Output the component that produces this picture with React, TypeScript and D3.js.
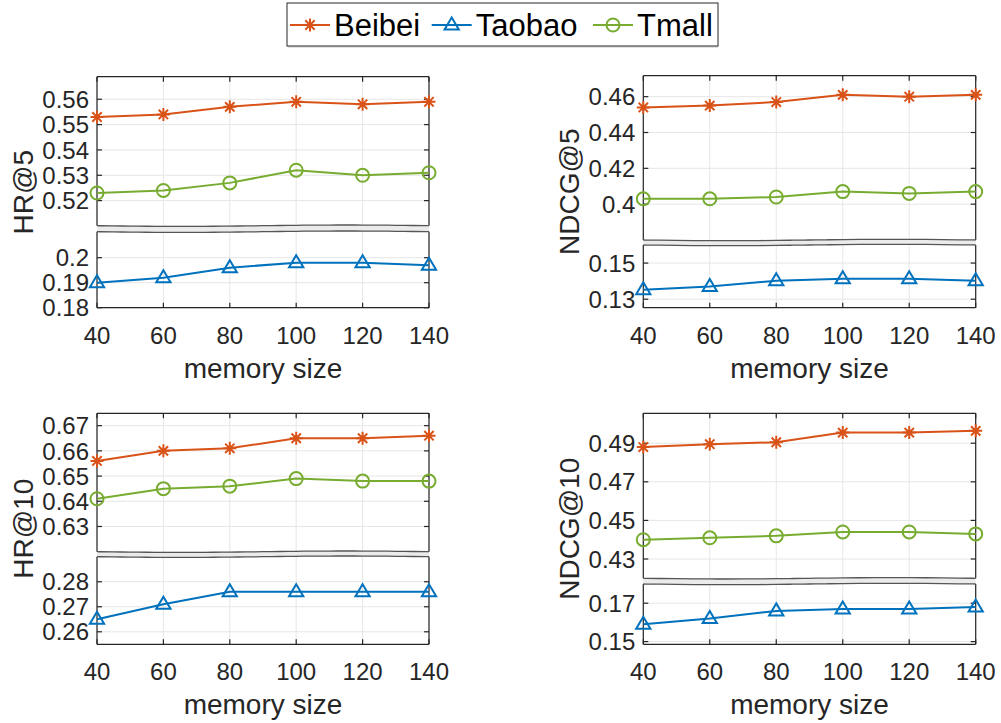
import React from "react";
import * as d3 from "d3";

const MEMORY_SIZES = [40, 60, 80, 100, 120, 140];
const SERIES_NAMES = ["Beibei", "Taobao", "Tmall"];
const SERIES_COLORS = ["#D95319", "#0072BD", "#77AC30"];

const HR5_BEIBEI = [0.553, 0.554, 0.557, 0.559, 0.558, 0.559];
const HR5_TAOBAO = [0.19, 0.192, 0.196, 0.198, 0.198, 0.197];
const HR5_TMALL = [0.523, 0.524, 0.527, 0.532, 0.53, 0.531];

const NDCG5_BEIBEI = [0.454, 0.455, 0.457, 0.461, 0.46, 0.461];
const NDCG5_TAOBAO = [0.1352, 0.137, 0.1402, 0.1413, 0.1413, 0.1402];
const NDCG5_TMALL = [0.403, 0.403, 0.404, 0.407, 0.406, 0.407];

const HR10_BEIBEI = [0.656, 0.66, 0.661, 0.665, 0.665, 0.666];
const HR10_TAOBAO = [0.265, 0.271, 0.276, 0.276, 0.276, 0.276];
const HR10_TMALL = [0.641, 0.645, 0.646, 0.649, 0.648, 0.648];

const NDCG10_BEIBEI = [0.488, 0.4895, 0.4905, 0.4955, 0.4955, 0.4964];
const NDCG10_TAOBAO = [0.159, 0.162, 0.166, 0.167, 0.167, 0.168];
const NDCG10_TMALL = [0.44, 0.441, 0.442, 0.444, 0.444, 0.443];

const HR5_UPPER_TICKS = [0.52, 0.53, 0.54, 0.55, 0.56];
const HR5_LOWER_TICKS = [0.18, 0.19, 0.2];
const NDCG5_UPPER_TICKS = [0.4, 0.42, 0.44, 0.46];
const NDCG5_LOWER_TICKS = [0.13, 0.15];
const HR10_UPPER_TICKS = [0.63, 0.64, 0.65, 0.66, 0.67];
const HR10_LOWER_TICKS = [0.26, 0.27, 0.28];
const NDCG10_UPPER_TICKS = [0.43, 0.45, 0.47, 0.49];
const NDCG10_LOWER_TICKS = [0.15, 0.17];

const FONT = "'Liberation Sans', Arial, Helvetica, sans-serif";
const AXIS = "#262626";
const GRID = "#e6e6e6";

type Panel = {
  label: string;
  x0: number;
  x1: number;
  upper: [number, number];
  upperDomain: [number, number];
  upperTicks: number[];
  lower: [number, number];
  lowerDomain: [number, number];
  lowerTicks: number[];
  beibei: number[];
  taobao: number[];
  tmall: number[];
};

const PANELS: Panel[] = [
  {
    label: "HR@5", x0: 97, x1: 429,
    upper: [76.7, 225.7], upperDomain: [0.5101, 0.5689], upperTicks: HR5_UPPER_TICKS,
    lower: [231.7, 307.7], lowerDomain: [0.18, 0.2104], lowerTicks: HR5_LOWER_TICKS,
    beibei: HR5_BEIBEI, taobao: HR5_TAOBAO, tmall: HR5_TMALL,
  },
  {
    label: "NDCG@5", x0: 643.3, x1: 975.7,
    upper: [75.7, 240], upperDomain: [0.38, 0.4717], upperTicks: NDCG5_UPPER_TICKS,
    lower: [245, 307.7], lowerDomain: [0.1253, 0.16], lowerTicks: NDCG5_LOWER_TICKS,
    beibei: NDCG5_BEIBEI, taobao: NDCG5_TAOBAO, tmall: NDCG5_TMALL,
  },
  {
    label: "HR@10", x0: 97, x1: 429,
    upper: [413.3, 551.7], upperDomain: [0.62, 0.6749], upperTicks: HR10_UPPER_TICKS,
    lower: [556.7, 644.3], lowerDomain: [0.255, 0.29], lowerTicks: HR10_LOWER_TICKS,
    beibei: HR10_BEIBEI, taobao: HR10_TAOBAO, tmall: HR10_TMALL,
  },
  {
    label: "NDCG@10", x0: 643.3, x1: 975.7,
    upper: [413.3, 578.3], upperDomain: [0.42, 0.5055], upperTicks: NDCG10_UPPER_TICKS,
    lower: [584, 644.3], lowerDomain: [0.1486, 0.18], lowerTicks: NDCG10_LOWER_TICKS,
    beibei: NDCG10_BEIBEI, taobao: NDCG10_TAOBAO, tmall: NDCG10_TMALL,
  },
];

const fmt = (v: number) => String(+v.toFixed(3));

function Marker({ kind, x, y, color }: { kind: number; x: number; y: number; color: string }) {
  if (kind === 0) {
    const r = 6.5;
    const d = r * 0.72;
    return (
      <path
        d={`M${x - r},${y}H${x + r}M${x},${y - r}V${y + r}M${x - d},${y - d}L${x + d},${y + d}M${x - d},${y + d}L${x + d},${y - d}`}
        stroke={color}
        strokeWidth={2}
        fill="none"
      />
    );
  }
  if (kind === 1) {
    const s = 7.5;
    return (
      <path
        d={`M${x},${y - s}L${x + s * 0.95},${y + s * 0.6}L${x - s * 0.95},${y + s * 0.6}Z`}
        stroke={color}
        strokeWidth={2}
        fill="none"
      />
    );
  }
  return <circle cx={x} cy={y} r={6.5} stroke={color} strokeWidth={2} fill="none" />;
}

function wavy(x0: number, x1: number, y: number, phase: number) {
  const pts: [number, number][] = d3.range(0, 21).map((i) => {
    const t = i / 20;
    return [x0 + t * (x1 - x0), y + 0.7 * Math.sin(Math.PI * 2 * t + phase)];
  });
  return d3.line().curve(d3.curveBasis)(pts) || "";
}

function PanelView({ p }: { p: Panel }) {
  const x = d3.scaleLinear().domain([40, 140]).range([p.x0, p.x1]);
  const yU = d3.scaleLinear().domain(p.upperDomain).range([p.upper[1], p.upper[0]]);
  const yL = d3.scaleLinear().domain(p.lowerDomain).range([p.lower[1], p.lower[0]]);
  const series = [p.beibei, p.taobao, p.tmall];
  const scaleFor = [yU, yL, yU];
  const tickLen = 5;

  const box = (top: number, bottom: number, ticks: number[], y: d3.ScaleLinear<number, number>, isLower: boolean, isUpper: boolean) => (
    <g>
      {MEMORY_SIZES.map((m) => (
        <line key={"gx" + m} x1={x(m)} x2={x(m)} y1={top} y2={bottom} stroke={GRID} strokeWidth={1} />
      ))}
      {ticks.map((t) => (
        <line key={"gy" + t} x1={p.x0} x2={p.x1} y1={y(t)} y2={y(t)} stroke={GRID} strokeWidth={1} />
      ))}
      <line x1={p.x0} x2={p.x0} y1={top} y2={bottom} stroke={AXIS} strokeWidth={1.2} />
      <line x1={p.x1} x2={p.x1} y1={top} y2={bottom} stroke={AXIS} strokeWidth={1.2} />
      {isUpper && <line x1={p.x0} x2={p.x1} y1={top} y2={top} stroke={AXIS} strokeWidth={1.2} />}
      {isLower && <line x1={p.x0} x2={p.x1} y1={bottom} y2={bottom} stroke={AXIS} strokeWidth={1.2} />}
      {ticks.map((t) => (
        <g key={"t" + t}>
          <line x1={p.x0} x2={p.x0 + tickLen} y1={y(t)} y2={y(t)} stroke={AXIS} strokeWidth={1.2} />
          <line x1={p.x1} x2={p.x1 - tickLen} y1={y(t)} y2={y(t)} stroke={AXIS} strokeWidth={1.2} />
          <text x={p.x0 - 8} y={y(t)} dy="0.36em" textAnchor="end" fontSize={24} fill={AXIS} fontFamily={FONT}>
            {fmt(t)}
          </text>
        </g>
      ))}
      {isLower &&
        MEMORY_SIZES.map((m) => (
          <line key={"bx" + m} x1={x(m)} x2={x(m)} y1={bottom} y2={bottom - tickLen} stroke={AXIS} strokeWidth={1.2} />
        ))}
      {isUpper &&
        MEMORY_SIZES.map((m) => (
          <line key={"tx" + m} x1={x(m)} x2={x(m)} y1={top} y2={top + tickLen} stroke={AXIS} strokeWidth={1.2} />
        ))}
    </g>
  );

  const line = (vals: number[], y: d3.ScaleLinear<number, number>) =>
    d3.line<number>().x((_, i) => x(MEMORY_SIZES[i])).y((v) => y(v))(vals) || "";

  return (
    <g>
      {box(p.upper[0], p.upper[1], p.upperTicks, yU, false, true)}
      {box(p.lower[0], p.lower[1], p.lowerTicks, yL, true, false)}
      <rect x={p.x0} y={p.upper[1]} width={p.x1 - p.x0} height={p.lower[0] - p.upper[1]} fill="#ebebeb" />
      <path d={wavy(p.x0, p.x1, p.upper[1], 0)} stroke="#555" strokeWidth={1.3} fill="none" />
      <path d={wavy(p.x0, p.x1, p.lower[0], 0)} stroke="#555" strokeWidth={1.3} fill="none" />
      {series.map((vals, si) => (
        <g key={si}>
          <path d={line(vals, scaleFor[si])} stroke={SERIES_COLORS[si]} strokeWidth={2} fill="none" />
          {vals.map((v, i) => (
            <Marker key={i} kind={si} x={x(MEMORY_SIZES[i])} y={scaleFor[si](v)} color={SERIES_COLORS[si]} />
          ))}
        </g>
      ))}
      {MEMORY_SIZES.map((m) => (
        <text key={"xl" + m} x={x(m)} y={p.lower[1] + 36} textAnchor="middle" fontSize={24} fill={AXIS} fontFamily={FONT}>
          {m}
        </text>
      ))}
      <text x={(p.x0 + p.x1) / 2} y={p.lower[1] + 70} textAnchor="middle" fontSize={28} fill={AXIS} fontFamily={FONT}>
        memory size
      </text>
      <text
        transform={`translate(${p.x0 - 64},${(p.upper[0] + p.lower[1]) / 2}) rotate(-90)`}
        textAnchor="middle"
        fontSize={28}
        fill={AXIS}
        fontFamily={FONT}
      >
        {p.label}
      </text>
    </g>
  );
}

function Legend() {
  const itemX = [290, 431.7, 593];
  return (
    <g>
      <rect x={287} y={3} width={431} height={43} fill="#fff" stroke="#262626" strokeWidth={1} />
      <line x1={288} x2={718} y1={46.5} y2={46.5} stroke="#888" strokeWidth={1.5} />
      {SERIES_NAMES.map((name, i) => (
        <g key={name}>
          <line x1={itemX[i]} x2={itemX[i] + 40} y1={25} y2={25} stroke={SERIES_COLORS[i]} strokeWidth={2} />
          <Marker kind={i} x={itemX[i] + 20} y={25} color={SERIES_COLORS[i]} />
          <text x={itemX[i] + 44} y={36} fontSize={31} fill="#000" fontFamily={FONT}>
            {name}
          </text>
        </g>
      ))}
    </g>
  );
}

export default function App() {
  return (
    <svg
      width={1001}
      height={723}
      style={{ position: "absolute", left: 0, top: 0, background: "#fff" }}
    >
      <rect x={0} y={0} width={1001} height={723} fill="#fff" />
      {PANELS.map((p) => (
        <PanelView key={p.label} p={p} />
      ))}
      <Legend />
    </svg>
  );
}
